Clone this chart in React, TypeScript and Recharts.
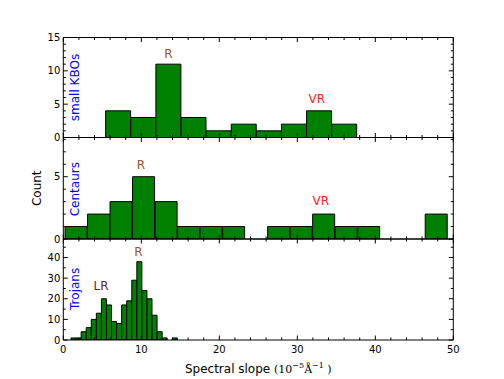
import React from 'react';
import { BarChart, Bar, XAxis, YAxis, ReferenceDot } from 'recharts';

// ---------- data ----------
const kboCenters = [7.04, 10.26, 13.48, 16.7, 19.92, 23.14, 26.36, 29.58, 32.8, 36.02];
const kboCounts = [4, 3, 11, 3, 1, 2, 1, 2, 4, 2];

const centaurCenters = [1.66, 4.55, 7.43, 10.32, 13.21, 16.09, 18.98, 21.87, 24.75, 27.64, 30.53, 33.41, 36.3, 39.18, 42.07, 44.96, 47.84];
const centaurCounts = [1, 2, 3, 5, 3, 1, 1, 1, 0, 1, 1, 2, 1, 1, 0, 0, 2];

const trojanCenters = [1.31, 1.96, 2.61, 3.26, 3.91, 4.56, 5.21, 5.86, 6.5, 7.15, 7.8, 8.45, 9.1, 9.75, 10.4, 11.05, 11.7, 12.35, 12.99, 13.64, 14.29];
const trojanCounts = [1, 1, 4, 6, 10, 13, 20, 17, 9, 8, 17, 19, 29, 38, 24, 20, 12, 4, 1, 0, 1];

const xMajorTicks = [0, 10, 20, 30, 40, 50];
const xAllTicks = [0, 2, 4, 6, 8, 10, 12, 14, 16, 18, 20, 22, 24, 26, 28, 30, 32, 34, 36, 38, 40, 42, 44, 46, 48, 50];

const kboYMajor = [0, 5, 10, 15];
const kboYAll = [0, 1, 2, 3, 4, 5, 6, 7, 8, 9, 10, 11, 12, 13, 14, 15];
const centaurYMajor = [0, 5];
const centaurYAll = [0, 1, 2, 3, 4, 5, 6, 7, 8];
const trojanYMajor = [0, 10, 20, 30, 40];
const trojanYAll = [0, 5, 10, 15, 20, 25, 30, 35, 40, 45];

const kboAnnotations = [
  { x: 13.49, y: 12.6, text: 'R', color: '#a0522d' },
  { x: 32.5, y: 5.8, text: 'VR', color: '#ff2020' },
];
const centaurAnnotations = [
  { x: 9.96, y: 6.0, text: 'R', color: '#a0522d' },
  { x: 33.0, y: 3.05, text: 'VR', color: '#ff2020' },
];
const trojanAnnotations = [
  { x: 9.64, y: 42.7, text: 'R', color: '#a0522d' },
  { x: 4.83, y: 26.2, text: 'LR', color: '#5a2a2a' },
];

const toRows = (centers: number[], counts: number[]) =>
  centers.map((x, i) => ({ x, count: counts[i] }));

// ---------- layout ----------
const W = 504;
const H = 379;
const PLOT_LEFT = 63.3;
const PLOT_RIGHT = 453.3;
const LEFT_AXIS_W = 40;
const RIGHT_AXIS_W = 10;
const TOP_AXIS_H = 10;
const BOTTOM_AXIS_H = 39;
const TM_LEFT = 3;
const TM_BOTTOM = 6;
const FONT = '"DejaVu Sans", sans-serif';

type Side = 'left' | 'right' | 'top' | 'bottom';

function makeTick(side: Side, majors: number[], showLabels: boolean, tm: number) {
  return (props: any) => {
    const { x, y, payload } = props;
    const v = payload.value;
    const major = majors.includes(v);
    const len = major ? 4.5 : 2.5;
    let line: any = null;
    let label: any = null;
    if (side === 'left') {
      const x0 = x + tm;
      line = <line x1={x0} x2={x0 + len} y1={y} y2={y} stroke="#000" strokeWidth={1} />;
      if (showLabels && major)
        label = (
          <text x={x} y={y + 3.6} textAnchor="end" fontSize={10} fill="#000" fontFamily={FONT}>
            {v}
          </text>
        );
    } else if (side === 'right') {
      const x0 = x - tm;
      line = <line x1={x0} x2={x0 - len} y1={y} y2={y} stroke="#000" strokeWidth={1} />;
    } else if (side === 'bottom') {
      const y0 = y - tm;
      line = <line x1={x} x2={x} y1={y0} y2={y0 - len} stroke="#000" strokeWidth={1} />;
      if (showLabels && major)
        label = (
          <text x={x} y={y + 7.4} textAnchor="middle" fontSize={10} fill="#000" fontFamily={FONT}>
            {v}
          </text>
        );
    } else {
      const y0 = y + tm;
      line = <line x1={x} x2={x} y1={y0} y2={y0 + len} stroke="#000" strokeWidth={1} />;
    }
    return (
      <g>
        {line}
        {label}
      </g>
    );
  };
}

const xLabelContent = (p: any) => {
  const vb = p.viewBox || { x: PLOT_LEFT, y: 340, width: PLOT_RIGHT - PLOT_LEFT };
  const serif = '"DejaVu Serif", serif';
  return (
    <text x={vb.x + vb.width / 2} y={vb.y + 33} textAnchor="middle" fontSize={12} fill="#000" fontFamily={FONT}>
      <tspan>Spectral slope </tspan>
      <tspan fontFamily={serif} fontSize={11}>(10</tspan>
      <tspan fontFamily={serif} fontSize={8} dy={-5}>−5</tspan>
      <tspan fontFamily={serif} fontSize={11} dy={5}>Å</tspan>
      <tspan fontFamily={serif} fontSize={8} dy={-5}>−1</tspan>
      <tspan fontFamily={serif} fontSize={11} dy={5}> )</tspan>
    </text>
  );
};

interface PanelProps {
  rows: { x: number; count: number }[];
  yDomain: [number, number];
  yAll: number[];
  yMajor: number[];
  plotTop: number;
  plotBottom: number;
  showXLabels: boolean;
  name: string;
  nameY: number;
  annotations: { x: number; y: number; text: string; color: string }[];
  yLabel?: string;
}

function Panel(p: PanelProps) {
  const margin = {
    top: p.plotTop - TOP_AXIS_H,
    bottom: H - p.plotBottom - BOTTOM_AXIS_H,
    left: PLOT_LEFT - LEFT_AXIS_W,
    right: W - PLOT_RIGHT - RIGHT_AXIS_W,
  };
  return (
    <div style={{ position: 'absolute', left: 0, top: 0, width: W, height: H }}>
      <BarChart width={W} height={H} data={p.rows} margin={margin} barCategoryGap={0} barGap={0}>
        <XAxis
          xAxisId="b"
          dataKey="x"
          type="number"
          domain={[0, 50]}
          allowDataOverflow
          ticks={xAllTicks}
          interval={0}
          height={BOTTOM_AXIS_H}
          tickSize={0}
          tickMargin={TM_BOTTOM}
          tickLine={false}
          axisLine={{ stroke: '#000', strokeWidth: 1 }}
          tick={makeTick('bottom', xMajorTicks, p.showXLabels, TM_BOTTOM)}
          label={p.showXLabels ? { content: xLabelContent } : undefined}
        />
        <XAxis
          xAxisId="t"
          dataKey="x"
          type="number"
          orientation="top"
          domain={[0, 50]}
          allowDataOverflow
          ticks={xAllTicks}
          interval={0}
          height={TOP_AXIS_H}
          tickSize={0}
          tickMargin={2}
          tickLine={false}
          axisLine={{ stroke: '#000', strokeWidth: 1 }}
          tick={makeTick('top', xMajorTicks, false, 2)}
        />
        <YAxis
          yAxisId="l"
          type="number"
          domain={p.yDomain}
          allowDataOverflow
          ticks={p.yAll}
          interval={0}
          width={LEFT_AXIS_W}
          tickSize={0}
          tickMargin={TM_LEFT}
          tickLine={false}
          axisLine={{ stroke: '#000', strokeWidth: 1 }}
          tick={makeTick('left', p.yMajor, true, TM_LEFT)}
          label={
            p.yLabel
              ? { value: p.yLabel, angle: -90, position: 'center', dx: -7, fontSize: 12, fill: '#000', fontFamily: FONT }
              : undefined
          }
        />
        <YAxis
          yAxisId="r"
          type="number"
          orientation="right"
          domain={p.yDomain}
          allowDataOverflow
          ticks={p.yAll}
          interval={0}
          width={RIGHT_AXIS_W}
          tickSize={0}
          tickMargin={2}
          tickLine={false}
          axisLine={{ stroke: '#000', strokeWidth: 1 }}
          tick={makeTick('right', p.yMajor, false, 2)}
        />
        <Bar
          dataKey="count"
          xAxisId="b"
          yAxisId="l"
          fill="#008000"
          stroke="#000"
          strokeWidth={1}
          isAnimationActive={false}
        />
        <ReferenceDot
          x={1.5}
          y={p.nameY}
          r={0}
          xAxisId="b"
          yAxisId="l"
          ifOverflow="visible"
          fill="none"
          stroke="none"
          label={{ value: p.name, angle: -90, position: 'center', fill: '#0000ff', fontSize: 12, fontFamily: FONT }}
        />
        {p.annotations.map((a) => (
          <ReferenceDot
            key={a.text}
            x={a.x}
            y={a.y}
            r={0}
            xAxisId="b"
            yAxisId="l"
            ifOverflow="visible"
            fill="none"
            stroke="none"
            label={{ value: a.text, position: 'center', fill: a.color, fontSize: 12, fontFamily: FONT }}
          />
        ))}
      </BarChart>
    </div>
  );
}

export default function App() {
  return (
    <div style={{ position: 'absolute', left: 0, top: 0, width: W, height: H, background: '#fff', fontFamily: FONT }}>
      <Panel
        rows={toRows(kboCenters, kboCounts)}
        yDomain={[0, 15]}
        yAll={kboYAll}
        yMajor={kboYMajor}
        plotTop={37.5}
        plotBottom={137.5}
        showXLabels={false}
        name="small KBOs"
        nameY={7.5}
        annotations={kboAnnotations}
      />
      <Panel
        rows={toRows(centaurCenters, centaurCounts)}
        yDomain={[0, 8.15]}
        yAll={centaurYAll}
        yMajor={centaurYMajor}
        plotTop={137.5}
        plotBottom={239}
        showXLabels={false}
        name="Centaurs"
        nameY={4.0}
        annotations={centaurAnnotations}
        yLabel="Count"
      />
      <Panel
        rows={toRows(trojanCenters, trojanCounts)}
        yDomain={[0, 49]}
        yAll={trojanYAll}
        yMajor={trojanYMajor}
        plotTop={239}
        plotBottom={340}
        showXLabels={true}
        name="Trojans"
        nameY={24.8}
        annotations={trojanAnnotations}
      />
    </div>
  );
}
